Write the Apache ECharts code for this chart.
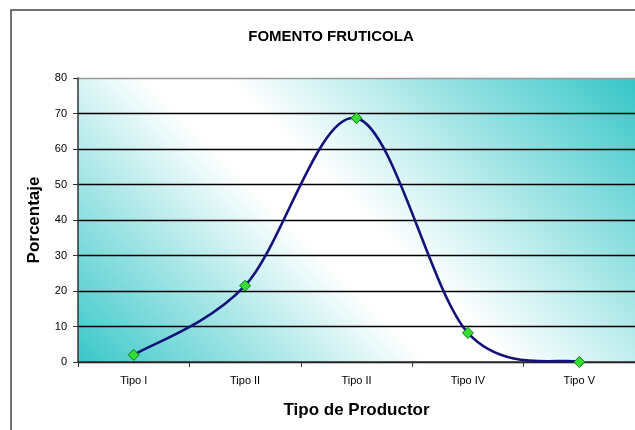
<!DOCTYPE html>
<html><head><meta charset="utf-8">
<script src="https://cdn.jsdelivr.net/npm/echarts@6/dist/echarts.min.js"></script>
<style>html,body{margin:0;padding:0;background:#fff}#c{width:635px;height:430px}</style>
</head><body><div id="c"></div>
<script>
const categories = ['Tipo I', 'Tipo II', 'Tipo II', 'Tipo IV', 'Tipo V'];
const porcentaje = [2, 21.5, 68.7, 8.2, 0];
const yTicks = [0, 10, 20, 30, 40, 50, 60, 70, 80];

const chart = echarts.init(document.getElementById('c'));
const teal = '#36c6c8';
const bg = new echarts.graphic.LinearGradient(127, 418, 551, -6, [
  {offset: 0, color: teal}, {offset: 0.42, color: '#ffffff'}, {offset: 0.52, color: '#ffffff'}, {offset: 1, color: teal}
], true);

// Excel-style smoothed line (Catmull-Rom Bezier) drawn through the axis scales
function renderSegment(params, api) {
  const i = params.dataIndex;
  if (i >= porcentaje.length - 1) return null;
  const pt = k => {
    const kk = Math.max(0, Math.min(porcentaje.length - 1, k));
    return api.coord([kk, porcentaje[kk]]);
  };
  const p0 = pt(i - 1), p1 = pt(i), p2 = pt(i + 1), p3 = pt(i + 2);
  const cs = params.coordSys;
  return {
    type: 'bezierCurve',
    shape: {
      x1: p1[0], y1: p1[1], x2: p2[0], y2: p2[1],
      cpx1: p1[0] + (p2[0] - p0[0]) / 6, cpy1: p1[1] + (p2[1] - p0[1]) / 6,
      cpx2: p2[0] - (p3[0] - p1[0]) / 6, cpy2: p2[1] - (p3[1] - p1[1]) / 6
    },
    clipPath: {type: 'rect', shape: {x: cs.x, y: cs.y, width: cs.width, height: cs.height + 1}},
    style: {stroke: '#12127a', lineWidth: 2.6, fill: null}
  };
}

chart.setOption({
  animation: false,
  backgroundColor: '#fff',
  graphic: [{
    type: 'rect', shape: {x: 11, y: 10, width: 640, height: 440},
    style: {fill: 'none', stroke: '#444', lineWidth: 1.5}, z: -1
  }],
  title: {
    text: 'FOMENTO FRUTICOLA', left: 326, top: 24, textAlign: 'center',
    textStyle: {fontFamily: 'Liberation Sans', fontSize: 15, fontWeight: 'bold', color: '#000'}
  },
  grid: {
    left: 78, top: 78, right: -4, bottom: 68, show: true, borderWidth: 0,
    backgroundColor: bg
  },
  xAxis: {
    type: 'category', data: categories, boundaryGap: true,
    name: 'Tipo de Productor', nameLocation: 'middle', nameGap: 40,
    nameTextStyle: {fontFamily: 'Liberation Sans', fontSize: 17, fontWeight: 'bold', color: '#000'},
    axisLine: {lineStyle: {color: '#333', width: 1.5}},
    axisTick: {show: true, inside: false, length: 5, lineStyle: {color: '#333'}},
    axisLabel: {fontFamily: 'Liberation Sans', fontSize: 11, color: '#000', margin: 13}
  },
  yAxis: {
    type: 'value', min: 0, max: 80, interval: 10,
    name: 'Porcentaje', nameLocation: 'middle', nameGap: 35,
    nameTextStyle: {fontFamily: 'Liberation Sans', fontSize: 17, fontWeight: 'bold', color: '#000'},
    axisLine: {show: true, lineStyle: {color: '#333', width: 1.5}},
    axisTick: {show: true, length: 5, lineStyle: {color: '#333'}},
    axisLabel: {fontFamily: 'Liberation Sans', fontSize: 11, color: '#000', margin: 11,
      formatter: v => yTicks.includes(v) ? String(v) : ''},
    splitLine: {show: true, lineStyle: {
      color: ['#000', '#000', '#000', '#000', '#000', '#000', '#000', '#000', '#999'], width: 1.4}}
  },
  series: [{
    type: 'custom', renderItem: renderSegment, z: 3,
    data: porcentaje.map((v, i) => [i, v]),
    encode: {x: 0, y: 1}
  }, {
    type: 'scatter', data: porcentaje, z: 5,
    symbol: 'diamond', symbolSize: 11,
    itemStyle: {color: '#33dd33', borderColor: '#117711', borderWidth: 1, opacity: 1}
  }]
});
</script></body></html>
